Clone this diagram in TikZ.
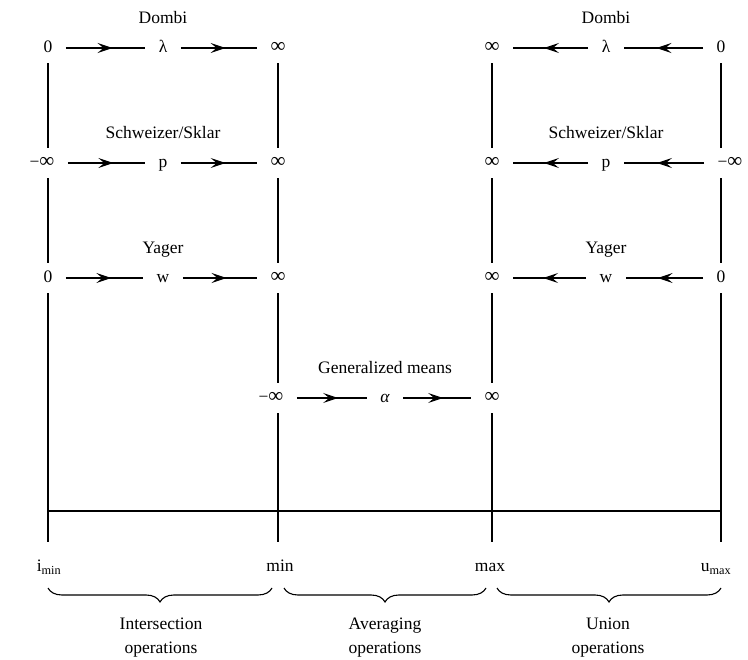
\documentclass[tikz,border=0pt]{standalone}
\usepackage{fontspec}
\setmainfont{Liberation Serif}
\usetikzlibrary{arrows.meta,positioning,decorations.markings,decorations.pathreplacing}
\newcommand{\infy}{{\fontsize{21}{24}\selectfont ∞}}

\begin{document}
\begin{tikzpicture}[
  x=1pt,y=-1pt,
  font=\fontsize{17.5}{24}\selectfont,
  line width=1.1pt,
  node distance=7pt,
  txt/.style={inner sep=3pt,text height=12pt,text depth=3pt},
  flow/.style={shorten <=10pt,shorten >=10pt,postaction={decorate},
    decoration={markings,mark=at position 0.57 with {\arrow{Stealth[length=15pt,width=10pt,inset=6pt]}}}},
  bar/.style={shorten <=4pt,shorten >=4pt},
  brc/.style={decorate,decoration={brace,mirror,amplitude=14pt}},
  opn/.style={align=center,inner sep=0pt}
]
  \useasboundingbox (0,0) rectangle (748,660);

  % Dombi
  \node[txt] (dA) at (48,48) {0};
  \node[txt] (lamL) at (163,48) {λ};
  \node[txt] (dB) at (278,48) {\infy};
  \node[txt] (dC) at (492,48) {\infy};
  \node[txt] (lamR) at (606,48) {λ};
  \node[txt] (dD) at (721,48) {0};
  \node[txt,above=of lamL] (dombiL) {Dombi};
  \node[txt,above=of lamR] (dombiR) {Dombi};

  % Schweizer/Sklar
  \node[txt] (sA) at (42,163) {−\infy};
  \node[txt] (pL) at (163,163) {p};
  \node[txt] (sB) at (278,163) {\infy};
  \node[txt] (sC) at (492,163) {\infy};
  \node[txt] (pR) at (606,163) {p};
  \node[txt] (sD) at (730,163) {−\infy};
  \node[txt,above=of pL] (schwL) {Schweizer/Sklar};
  \node[txt,above=of pR] (schwR) {Schweizer/Sklar};

  % Yager
  \node[txt] (yA) at (48,278) {0};
  \node[txt] (wL) at (163,278) {w};
  \node[txt] (yB) at (278,278) {\infy};
  \node[txt] (yC) at (492,278) {\infy};
  \node[txt] (wR) at (606,278) {w};
  \node[txt] (yD) at (721,278) {0};
  \node[txt,above=of wL] (yagL) {Yager};
  \node[txt,above=of wR] (yagR) {Yager};

  % generalized means
  \node[txt] (gB) at (271,398) {−\infy};
  \node[txt] (alpha) at (385,398) {\itshape α};
  \node[txt] (gC) at (492,398) {\infy};
  \node[txt,above=of alpha] (gmean) {Generalized means};

  \draw[flow] (dA) -- (lamL);
  \draw[flow] (lamL) -- (dB);
  \draw[flow] (dD) -- (lamR);
  \draw[flow] (lamR) -- (dC);
  \draw[flow] (sA) -- (pL);
  \draw[flow] (pL) -- (sB);
  \draw[flow] (sD) -- (pR);
  \draw[flow] (pR) -- (sC);
  \draw[flow] (yA) -- (wL);
  \draw[flow] (wL) -- (yB);
  \draw[flow] (yD) -- (wR);
  \draw[flow] (wR) -- (yC);
  \draw[flow] (gB) -- (alpha);
  \draw[flow] (alpha) -- (gC);

  % scale
  \coordinate (eA) at (48,542);
  \coordinate (eB) at (278,542);
  \coordinate (eC) at (492,542);
  \coordinate (eD) at (721,542);
  \coordinate (axA) at (48,511);
  \coordinate (axD) at (721,511);

  \draw[bar] (dA.south) -- (dA |- sA.north);
  \draw[bar] (dA |- sA.south) -- (yA.north);
  \draw[shorten <=4pt] (yA.south) -- (eA);
  \draw[bar] (dB.south) -- (sB.north);
  \draw[bar] (sB.south) -- (yB.north);
  \draw[bar] (yB.south) -- (yB |- gB.north);
  \draw[shorten <=4pt] (yB |- gB.south) -- (eB);
  \draw[bar] (dC.south) -- (sC.north);
  \draw[bar] (sC.south) -- (yC.north);
  \draw[bar] (yC.south) -- (gC.north);
  \draw[shorten <=4pt] (gC.south) -- (eC);
  \draw[bar] (dD.south) -- (dD |- sD.north);
  \draw[bar] (dD |- sD.south) -- (yD.north);
  \draw[shorten <=4pt] (yD.south) -- (eD);
  \draw[line width=1.4pt] (axA) -- (axD);

  \node[txt] (imin) at (49,567) {i\textsubscript{min}};
  \node[txt] (lmin) at (280,567) {min};
  \node[txt] (lmax) at (490,567) {max};
  \node[txt] (umax) at (716,567) {u\textsubscript{max}};

  % braces
  \coordinate (bA) at (48,588);
  \coordinate (bB) at (272,588);
  \coordinate (bC) at (284,588);
  \coordinate (bD) at (486,588);
  \coordinate (bE) at (497,588);
  \coordinate (bF) at (721,588);
  \draw[brc] (bA) -- (bB);
  \draw[brc] (bC) -- (bD);
  \draw[brc] (bE) -- (bF);

  \node[opn] (opI) at (161,638) {Intersection\\operations};
  \node[opn] (opA) at (385,638) {Averaging\\operations};
  \node[opn] (opU) at (608,638) {Union\\operations};
\end{tikzpicture}
\end{document}
